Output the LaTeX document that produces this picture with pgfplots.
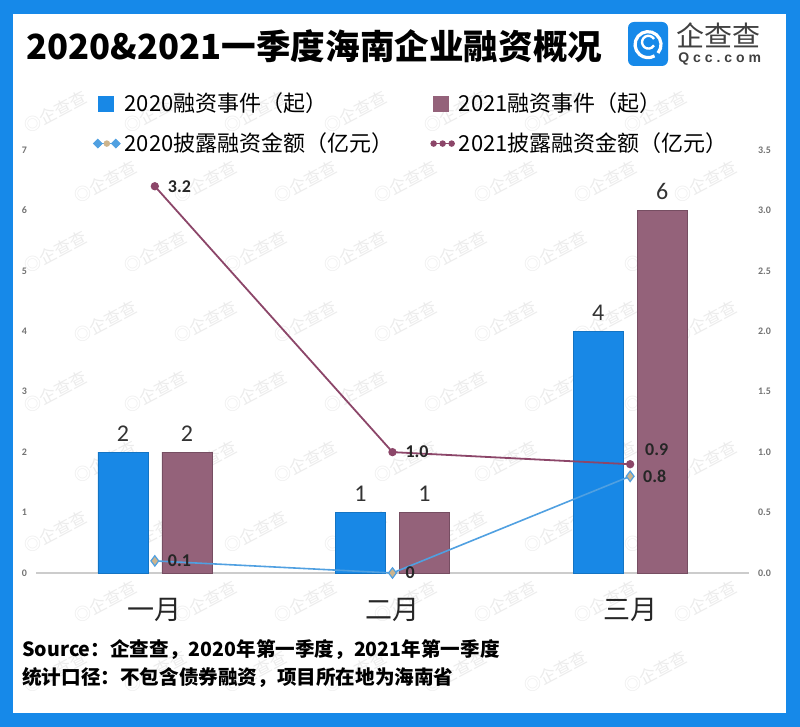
\documentclass[border=0pt]{standalone}
\usepackage{pgfplots}
\pgfplotsset{compat=1.18}
\usepackage{fontspec}
\setmainfont{Noto Sans CJK SC}
\newfontfamily\numfont{Carlito}
\newfontfamily\qccfont{Liberation Sans}[LetterSpace=28]
\definecolor{border}{RGB}{22,137,233}
\definecolor{barA}{RGB}{24,136,230}
\definecolor{barB}{RGB}{148,98,122}
\definecolor{lineA}{RGB}{80,160,225}
\definecolor{lineB}{RGB}{140,70,105}
\definecolor{markA}{RGB}{205,180,140}
\definecolor{wm}{RGB}{236,236,236}
\begin{document}
\begin{tikzpicture}[x=1pt,y=1pt]
\fill[border] (0,0) rectangle (400,363.5);
\fill[white] (6.5,7) rectangle (393,356.5);
% faint watermarks (kept fully inside the frame)
\foreach \r in {1,...,9} {
  \foreach \c in {0,...,6} {
    \pgfmathsetmacro{\xx}{52.5-25*mod(\r,2)+\c*50}
    \pgfmathsetmacro{\yy}{342.5-\r*35}
    \node[rotate=28, text=wm, font=\fontsize{8.5}{9}\selectfont, inner sep=0] at (\xx,\yy) {◎企查查};
  }
}
\node[anchor=west, inner sep=0, font=\bfseries\fontsize{17.3}{19}\selectfont] at (13,340.5) {2020\&2021一季度海南企业融资概况};
% logo
\fill[border, rounded corners=3pt] (314,330.5) rectangle (334,352.5);
\draw[white, line width=1.6pt] (329,337) arc[start angle=-40, end angle=300, radius=6.5pt];
\draw[white, line width=1.2pt] (327,344) arc[start angle=30, end angle=330, radius=3.2pt];
\node[anchor=west, inner sep=0, text=black!75, font=\fontsize{14}{15}\selectfont] at (338,346) {企查查};
\node[anchor=west, inner sep=0, text=black!75, font=\qccfont\bfseries\fontsize{7}{8}\selectfont] at (339,334) {Qcc.com};
% footer
\node[anchor=west, inner sep=0, font=\bfseries\fontsize{9.8}{12}\selectfont] at (11,38.5) {Source：企查查，2020年第一季度，2021年第一季度};
\node[anchor=west, inner sep=0, font=\bfseries\fontsize{9.8}{12}\selectfont] at (11,24.5) {统计口径：不包含债券融资，项目所在地为海南省};

\begin{axis}[
  at={(18pt,77pt)}, anchor=south west,
  scale only axis, width=356.5pt, height=211.5pt,
  xmin=-0.5, xmax=2.5, ymin=0, ymax=7,
  axis x line*=bottom, axis y line*=left,
  x axis line style={draw=black!20, line width=0.8pt},
  y axis line style={draw=none},
  tick style={draw=none},
  xtick={0,1,2}, xticklabels={一月,二月,三月},
  xticklabel style={font=\fontsize{13.5}{15}\selectfont, text=black!85, yshift=-5pt},
  ytick={0,1,...,7},
  yticklabel style={font=\numfont\bfseries\fontsize{5}{6}\selectfont, text=black!55, xshift=-1pt},
  /pgf/number format/assume math mode=true,
  ybar=7pt, bar width=25pt,
  clip=false,
  nodes near coords,
  every node near coord/.append style={font=\numfont\fontsize{12}{13}\selectfont, text=black!80, yshift=2pt},
  legend columns=2,
  legend cell align=left,
  legend style={at={(axis description cs:0.071,1.155)}, anchor=north west, draw=none, fill=none,
    font=\fontsize{11}{13}\selectfont, row sep=5pt,
    /tikz/every even column/.append style={column sep=16.5pt}},
]
\addplot[fill=barA, draw=barA!85!black, line width=0.3pt,
  legend image code/.code={\fill[barA] (0pt,-3.75pt) rectangle (7.5pt,3.75pt);}]
  coordinates {(0,2) (1,1) (2,4)};
\addlegendentry{2020融资事件（起）}
\addplot[fill=barB, draw=barB!80!black, line width=0.3pt,
  legend image code/.code={\fill[barB] (0pt,-3.75pt) rectangle (7.5pt,3.75pt);}]
  coordinates {(0,2) (1,1) (2,6)};
\addlegendentry{2021融资事件（起）}
\addlegendimage{legend image code/.code={\draw[lineA, line width=0.8pt] (0pt,0pt) -- (9pt,0pt);
  \fill[lineA] (0pt,0pt) +(0,2.2pt) -- +(2.2pt,0) -- +(0,-2.2pt) -- +(-2.2pt,0) -- cycle;
  \fill[markA] (4.5pt,0pt) circle (1.4pt);
  \fill[lineA] (9pt,0pt) +(0,2.2pt) -- +(2.2pt,0) -- +(0,-2.2pt) -- +(-2.2pt,0) -- cycle;}}
\addlegendentry{2020披露融资金额（亿元）}
\addlegendimage{legend image code/.code={\draw[lineB, line width=0.8pt] (0pt,0pt) -- (9pt,0pt);
  \fill[lineB] (0pt,0pt) circle (1.4pt); \fill[lineB] (4.5pt,0pt) circle (1.4pt); \fill[lineB] (9pt,0pt) circle (1.4pt);}}
\addlegendentry{2021披露融资金额（亿元）}
\end{axis}

\begin{axis}[
  at={(18pt,77pt)}, anchor=south west,
  scale only axis, width=356.5pt, height=211.5pt,
  xmin=-0.5, xmax=2.5, ymin=0, ymax=3.5,
  axis x line=none, axis y line*=right,
  y axis line style={draw=none},
  tick style={draw=none},
  ytick={0,0.5,...,3.5},
  yticklabel style={font=\numfont\bfseries\fontsize{5}{6}\selectfont, text=black!55, xshift=1pt,
    /pgf/number format/.cd, fixed, fixed zerofill, precision=1},
  /pgf/number format/assume math mode=true,
  clip=false,
]
\addplot[lineA, line width=0.8pt, mark=diamond*, mark size=2.6pt, mark options={fill=markA, draw=lineA, line width=0.6pt}]
  coordinates {(0,0.1) (1,0) (2,0.8)};
\addplot[lineB, line width=0.9pt, mark=*, mark size=1.6pt]
  coordinates {(0,3.2) (1,1.0) (2,0.9)};
\addplot[draw=none, point meta=explicit symbolic, nodes near coords,
  every node near coord/.append style={anchor=west, font=\numfont\bfseries\fontsize{9}{10}\selectfont, text=black!85, xshift=3pt}]
  coordinates {(0,0.1) [0.1] (1,0) [0] (2,0.8) [0.8] (0,3.2) [3.2] (1,1.0) [1.0]};
\addplot[draw=none, point meta=explicit symbolic, nodes near coords,
  every node near coord/.append style={anchor=south west, font=\numfont\bfseries\fontsize{9}{10}\selectfont, text=black!85, xshift=4pt, yshift=1pt}]
  coordinates {(2,0.9) [0.9]};
\end{axis}
\end{tikzpicture}
\end{document}
